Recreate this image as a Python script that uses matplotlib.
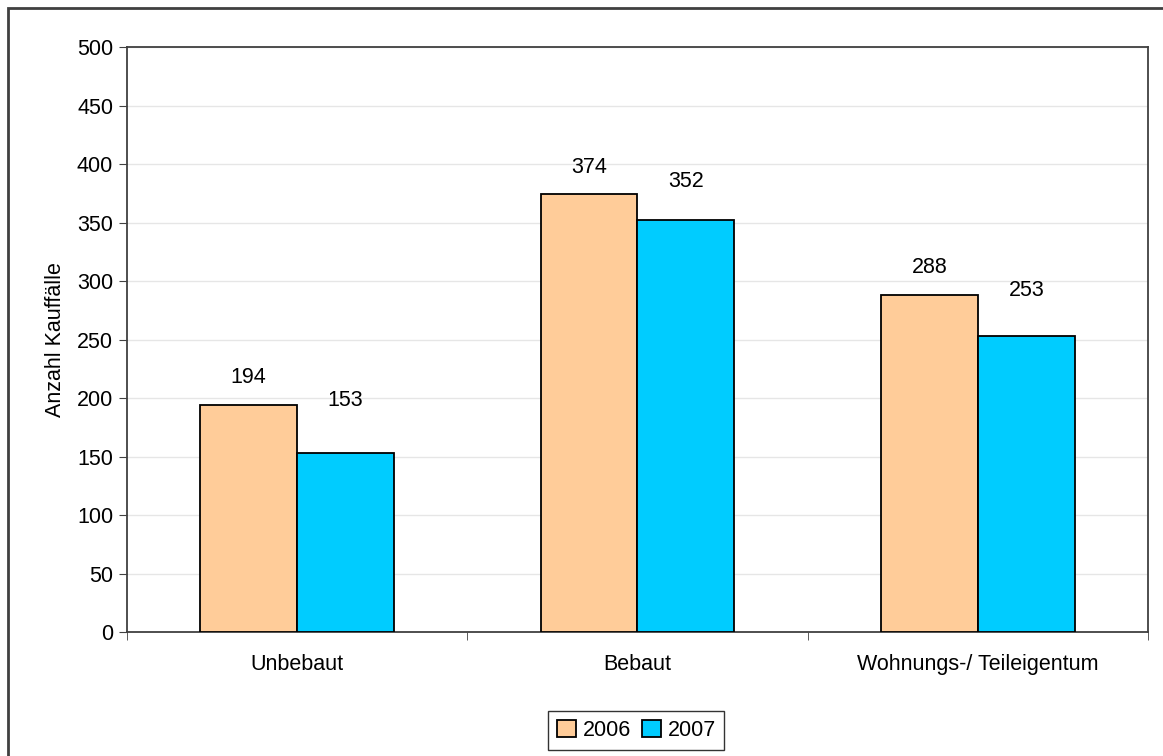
import matplotlib
matplotlib.use('Agg')
import matplotlib.pyplot as plt
import numpy as np
from matplotlib.patches import Rectangle

plt.rcParams['font.family'] = ['Liberation Sans', 'DejaVu Sans']
plt.rcParams['font.size'] = 15.5

categories = ['Unbebaut', 'Bebaut', 'Wohnungs-/ Teileigentum']
years = ['2006', '2007']
values_2006 = [194, 374, 288]
values_2007 = [153, 352, 253]
colors = ['#FFCC99', '#00CCFF']

# label offsets above the bar top, in points (as placed in the original)
label_off = [[19.5, 19.5, 20], [37.5, 27.5, 33]]

fig = plt.figure(figsize=(11.63, 7.56), dpi=100)
ax = fig.add_axes([0.1092, 0.164, 0.8779, 0.7738])

x = np.arange(len(categories))
w = 0.285
b1 = ax.bar(x - w / 2, values_2006, w, color=colors[0], edgecolor='black', linewidth=1.3, label=years[0], zorder=3)
b2 = ax.bar(x + w / 2, values_2007, w, color=colors[1], edgecolor='black', linewidth=1.3, label=years[1], zorder=3)

for k, bars in enumerate((b1, b2)):
	for i, rect in enumerate(bars):
		h = rect.get_height()
		ax.annotate('{}'.format(int(h)), (rect.get_x() + rect.get_width() / 2, h),
			xytext=(0, label_off[k][i]), textcoords='offset points', ha='center', va='center')

ax.set_xlim(-0.5, 2.5)
ax.set_ylim(0, 500)
ax.set_yticks(range(0, 501, 50))
ax.yaxis.grid(True, color='#e6e6e6', linewidth=1, zorder=0)
ax.set_axisbelow(True)

ax.set_xticks(x)
ax.set_xticklabels(categories)
ax.tick_params(axis='x', length=0, pad=16)
ax.set_xticks([-0.5, 0.5, 1.5, 2.5], minor=True)
ax.tick_params(axis='x', which='minor', length=6, color='#404040')
ax.tick_params(axis='y', length=6, color='#404040', pad=4)
for s in ax.spines.values():
	s.set_color('#404040')
	s.set_linewidth(1.3)

ax.set_ylabel('Anzahl Kauffälle', labelpad=8)

fig.legend(loc='center', bbox_to_anchor=(0.547, 0.034), ncol=2, frameon=True, fancybox=False,
	edgecolor='black', handlelength=0.9, handleheight=0.9, handletextpad=0.3, columnspacing=0.5,
	borderpad=0.4)

# outer frame (right and bottom sides fall outside the image)
fig.patches.append(Rectangle((8 / 1163, -0.1), 1.2, 1 - 8 / 756 + 0.1, transform=fig.transFigure,
	fill=False, edgecolor='#404040', linewidth=2))

fig.savefig('out.png', dpi=100)
